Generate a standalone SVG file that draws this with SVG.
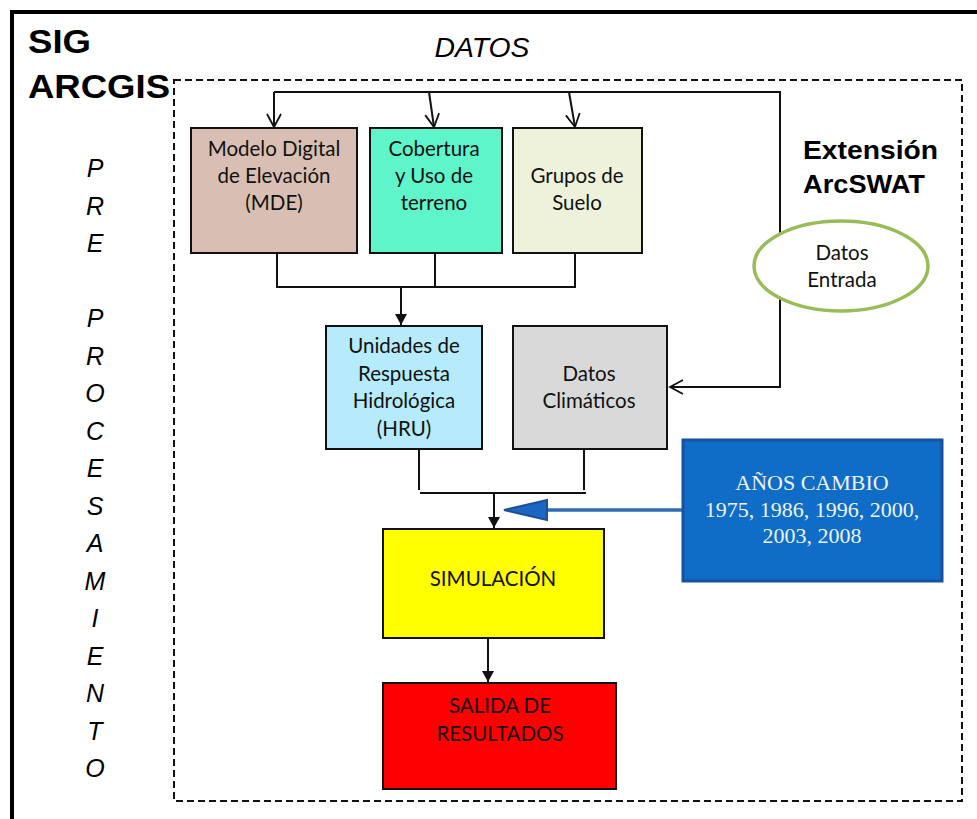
<svg xmlns="http://www.w3.org/2000/svg" width="977" height="819" viewBox="0 0 977 819">
<style>
.box{stroke:#111;stroke-width:2}
.t{font-family:Lato,"Open Sans",sans-serif;font-size:20.5px;fill:#111;text-anchor:middle}
.conn{fill:none;stroke:#111;stroke-width:2}
.vt{font-family:"Liberation Sans",Arial,sans-serif;font-style:italic;font-size:25px;fill:#000;text-anchor:middle}
.bold{font-family:"Liberation Sans",Arial,sans-serif;font-weight:bold;fill:#000}
.yr{font-family:"Liberation Serif","Times New Roman",serif;font-size:22px;fill:#eef3fc;text-anchor:middle}
</style>
<defs>
<marker id="open" markerUnits="userSpaceOnUse" markerWidth="16" markerHeight="18" refX="14" refY="8" orient="auto" viewBox="0 0 16 16">
<path d="M1,1 L14,8 L1,15" fill="none" stroke="#111" stroke-width="1.8"/>
</marker>
<marker id="fill" markerUnits="userSpaceOnUse" markerWidth="12" markerHeight="12" refX="11" refY="6" orient="auto" viewBox="0 0 12 12">
<path d="M0,0 L11,6 L0,12 Z" fill="#111"/>
</marker>
</defs>
<rect width="977" height="819" fill="#fff"/>
<rect x="12" y="12" width="990" height="830" fill="none" stroke="#000" stroke-width="4"/>
<rect id="arcswat-frame" x="174" y="80" width="788" height="721" fill="none" stroke="#111" stroke-width="2" stroke-dasharray="7,4"/>
<g id="labels">
<text class="bold" x="28" y="53" font-size="34" textLength="63" lengthAdjust="spacingAndGlyphs">SIG</text>
<text class="bold" x="28" y="98" font-size="34" textLength="142" lengthAdjust="spacingAndGlyphs">ARCGIS</text>
<text x="482" y="57" font-family="Liberation Sans,Arial,sans-serif" font-style="italic" font-size="27" text-anchor="middle" textLength="95" lengthAdjust="spacingAndGlyphs">DATOS</text>
<text class="bold" x="803" y="159" font-size="25" textLength="135" lengthAdjust="spacingAndGlyphs">Extensión</text>
<text class="bold" x="803" y="193" font-size="25" textLength="122" lengthAdjust="spacingAndGlyphs">ArcSWAT</text>
<g class="vt">
<text x="95" y="177">P</text>
<text x="95" y="215">R</text>
<text x="95" y="252">E</text>
<text x="95" y="327">P</text>
<text x="95" y="365">R</text>
<text x="95" y="402">O</text>
<text x="95" y="440">C</text>
<text x="95" y="477">E</text>
<text x="95" y="515">S</text>
<text x="95" y="552">A</text>
<text x="95" y="590">M</text>
<text x="95" y="627">I</text>
<text x="95" y="665">E</text>
<text x="95" y="702">N</text>
<text x="95" y="740">T</text>
<text x="95" y="777">O</text>
</g>
</g>
<g id="connectors">
<path class="conn" d="M274,92 H780 V387 H670" marker-end="url(#open)"/>
<path class="conn" d="M274,92 V127" marker-end="url(#open)"/>
<path class="conn" d="M429,92 L434,127" marker-end="url(#open)"/>
<path class="conn" d="M569,92 L575,127" marker-end="url(#open)"/>
<path class="conn" d="M277,254 V287 M435,254 V287 M575,254 V287 M276,287 H576"/>
<path class="conn" d="M401,287 V325" marker-end="url(#fill)"/>
<path class="conn" d="M419,449 V490 M584,449 V490 M420,493 H586"/>
<path class="conn" d="M494,493 V528" marker-end="url(#fill)"/>
<path class="conn" d="M488,638 V682" marker-end="url(#fill)"/>
<path d="M683,510 H546" fill="none" stroke="#2f6cb5" stroke-width="3.5"/>
<polygon points="504,510 547,500 547,520" fill="#1a66c0" stroke="#1f4e96" stroke-width="2"/>
</g>
<g id="mde">
<rect class="box" x="191" y="128" width="166" height="125" fill="#d9bfb3"/>
<text class="t" x="274" y="156">Modelo Digital</text>
<text class="t" x="274" y="183">de Elevación</text>
<text class="t" x="274" y="210">(MDE)</text>
</g>
<g id="cobertura">
<rect class="box" x="370" y="128" width="132" height="125" fill="#5ff5cb"/>
<text class="t" x="434" y="156">Cobertura</text>
<text class="t" x="434" y="183">y Uso de</text>
<text class="t" x="434" y="210">terreno</text>
</g>
<g id="suelo">
<rect class="box" x="513" y="128" width="129" height="125" fill="#eef2da"/>
<text class="t" x="577" y="183">Grupos de</text>
<text class="t" x="577" y="210">Suelo</text>
</g>
<g id="datos-entrada">
<ellipse cx="841" cy="266" rx="87" ry="45" fill="#fff" stroke="#9bbb59" stroke-width="3.5"/>
<text class="t" x="842" y="260">Datos</text>
<text class="t" x="842" y="287">Entrada</text>
</g>
<g id="hru">
<rect class="box" x="326" y="326" width="156" height="123" fill="#b5ebfb"/>
<text class="t" x="404" y="353">Unidades de</text>
<text class="t" x="404" y="381">Respuesta</text>
<text class="t" x="404" y="408">Hidrológica</text>
<text class="t" x="404" y="436">(HRU)</text>
</g>
<g id="climaticos">
<rect class="box" x="513" y="326" width="154" height="123" fill="#d9d9d9"/>
<text class="t" x="589" y="381">Datos</text>
<text class="t" x="589" y="408">Climáticos</text>
</g>
<g id="anos">
<rect x="683" y="440" width="259" height="141" fill="#0f6dc7" stroke="#1652a0" stroke-width="3"/>
<text class="yr" x="812" y="490">AÑOS CAMBIO</text>
<text class="yr" x="812" y="517">1975, 1986, 1996, 2000,</text>
<text class="yr" x="812" y="543">2003, 2008</text>
</g>
<g id="simulacion">
<rect class="box" x="383" y="529" width="221" height="109" fill="#ffff00"/>
<text class="t" x="493" y="586">SIMULACIÓN</text>
</g>
<g id="salida">
<rect class="box" x="383" y="683" width="233" height="106" fill="#ff0000"/>
<text class="t" x="500" y="713">SALIDA DE</text>
<text class="t" x="500" y="741">RESULTADOS</text>
</g>
</svg>
